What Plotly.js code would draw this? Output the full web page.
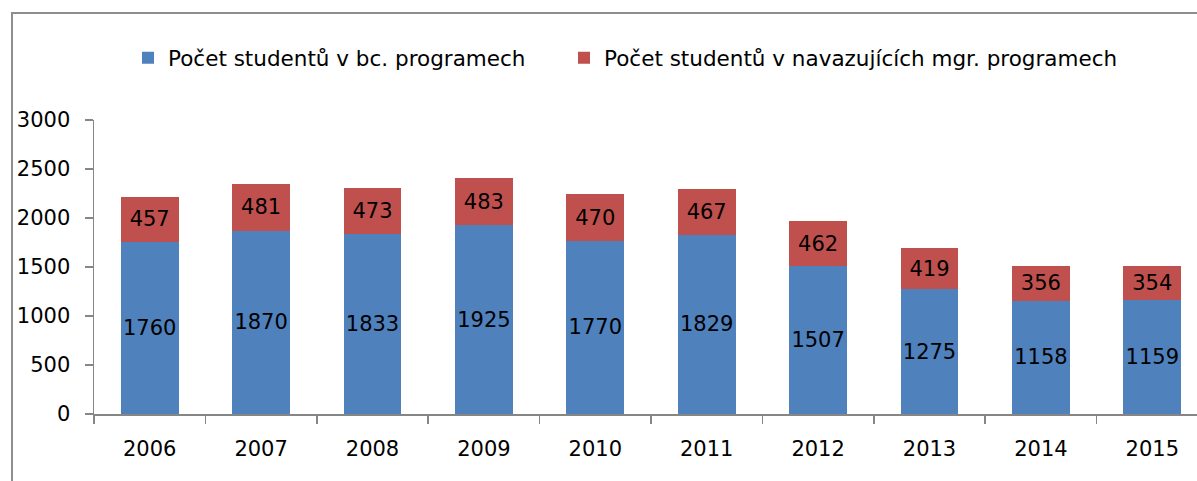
<!DOCTYPE html>
<html><head><meta charset="utf-8">
<script src="https://cdn.plot.ly/plotly-3.0.1.min.js"></script>
<style>
html,body{margin:0;padding:0;overflow:hidden;background:#fff;width:1197px;height:481px;}
#chart{position:absolute;left:0;top:0;}
#frame{position:absolute;left:11px;top:12px;width:1300px;height:600px;border-left:2px solid #8e8e8e;border-top:2px solid #8e8e8e;pointer-events:none;}
</style></head>
<body>
<div id="chart"></div>
<div id="frame"></div>
<script>
const years = ['2006','2007','2008','2009','2010','2011','2012','2013','2014','2015'];
const bcStudents = [1760,1870,1833,1925,1770,1829,1507,1275,1158,1159];
const mgrStudents = [457,481,473,483,470,467,462,419,356,354];
const seriesNames = ['Počet studentů v bc. programech','Počet studentů v navazujících mgr. programech'];

const W = 1213;
const font = {family:'DejaVu Sans, sans-serif', size:21, color:'#000'};
const legendFont = {family:'DejaVu Sans, sans-serif', size:21.5, color:'#000'};
const traces = [
  {type:'bar', name:seriesNames[0], x:years, y:bcStudents, text:bcStudents.map(String),
   textposition:'inside', insidetextanchor:'middle', textangle:0, constraintext:'none',
   textfont:font, marker:{color:'#4F81BD'}, hoverinfo:'none', legend:'legend'},
  {type:'bar', name:seriesNames[1], x:years, y:mgrStudents, text:mgrStudents.map(String),
   textposition:'inside', insidetextanchor:'middle', textangle:0, constraintext:'none',
   textfont:font, marker:{color:'#C0504D'}, hoverinfo:'none', legend:'legend2'}
];
const legendCommon = {orientation:'h', xref:'container', xanchor:'left', yref:'container', y:0.88, yanchor:'middle', font:legendFont, itemsizing:'constant', bgcolor:'rgba(0,0,0,0)'};
const layout = {
  width:W, height:481,
  margin:{l:94, r:5, t:120, b:67},
  barmode:'stack', bargap:0.48,
  paper_bgcolor:'#fff', plot_bgcolor:'#fff',
  font:font,
  showlegend:true,
  legend:Object.assign({}, legendCommon, {x:128/W}),
  legend2:Object.assign({}, legendCommon, {x:564/W}),
  xaxis:{type:'category', showline:true, linecolor:'#868686', linewidth:1.5, ticks:'outside', tickson:'boundaries', ticklen:8, tickcolor:'#868686', tickwidth:1.5, showgrid:false, zeroline:false, tickfont:font, ticklabelstandoff:15},
  yaxis:{range:[0,3000], dtick:500, showline:true, linecolor:'#868686', linewidth:1.5, ticks:'outside', ticklen:8, tickcolor:'#868686', tickwidth:1.5, showgrid:false, zeroline:false, tickfont:font, ticklabelstandoff:10}
};
Plotly.newPlot('chart', traces, layout, {staticPlot:true, displayModeBar:false});
</script>
</body></html>
